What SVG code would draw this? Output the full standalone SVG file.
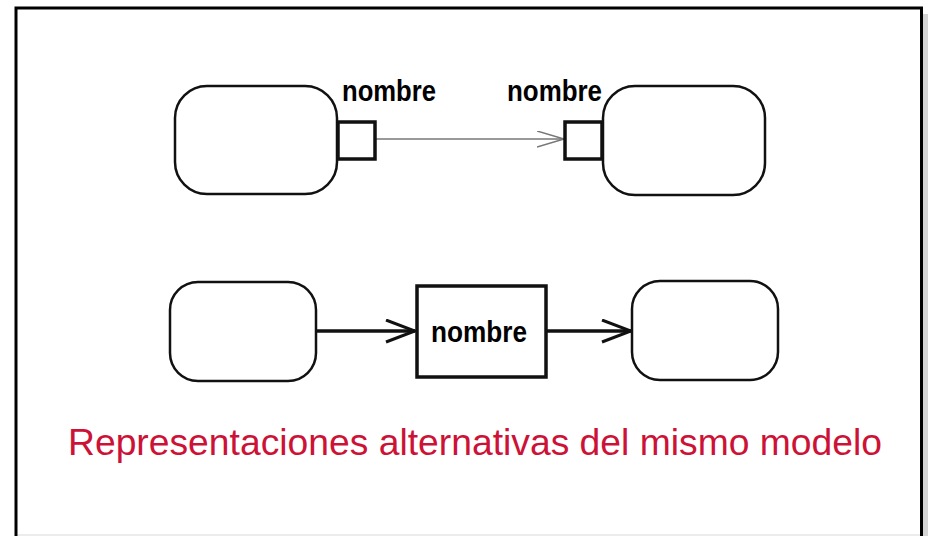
<svg xmlns="http://www.w3.org/2000/svg" width="928" height="536" viewBox="0 0 928 536">
<style>
.node{fill:#fff;stroke:#111;stroke-width:2.5}
.port{fill:#fff;stroke:#111;stroke-width:3.5}
.lbl{font-family:"Liberation Sans",Arial,sans-serif;font-weight:bold;font-size:29px;fill:#000}
.title{font-family:"Liberation Sans",Arial,sans-serif;font-size:37px;fill:#cc1236}
</style>
<defs>
<marker id="openThin" markerWidth="30" markerHeight="20" refX="27" refY="8" orient="auto" markerUnits="userSpaceOnUse">
<path d="M0,0 L27,8 L0,16" fill="none" stroke="#777" stroke-width="1.5"/>
</marker>
<marker id="openBold" markerWidth="34" markerHeight="26" refX="30" refY="12" orient="auto" markerUnits="userSpaceOnUse">
<path d="M1,1 L30,12 L1,23" fill="none" stroke="#111" stroke-width="3"/>
</marker>
</defs>
<rect x="0" y="0" width="928" height="536" fill="#fff"/>
<rect x="923" y="14" width="5" height="522" fill="#d4d4d4"/>
<line x1="17" y1="535" x2="921" y2="535" stroke="#e6e6e6" stroke-width="1.5"/>
<path d="M16,536 L16,8 L921.5,8 L921.5,536" fill="none" stroke="#000" stroke-width="3"/>
<g id="connectors">
<line x1="375" y1="139" x2="564" y2="139" stroke="#777" stroke-width="1.5" marker-end="url(#openThin)"/>
<line x1="316" y1="331" x2="415" y2="331" stroke="#111" stroke-width="3.5" marker-end="url(#openBold)"/>
<line x1="546" y1="331" x2="631" y2="331" stroke="#111" stroke-width="3.5" marker-end="url(#openBold)"/>
</g>
<g id="nodeA">
<rect class="node" x="175" y="86" width="162" height="108" rx="32"/>
</g>
<g id="portA">
<rect class="port" x="338" y="122" width="37" height="37"/>
<text class="lbl" x="342" y="101" textLength="94" lengthAdjust="spacingAndGlyphs">nombre</text>
</g>
<g id="portB">
<rect class="port" x="565" y="122" width="37" height="37"/>
<text class="lbl" x="507" y="101" textLength="95" lengthAdjust="spacingAndGlyphs">nombre</text>
</g>
<g id="nodeB">
<rect class="node" x="603" y="86" width="162" height="109" rx="32"/>
</g>
<g id="nodeC">
<rect class="node" x="170" y="282" width="146" height="99" rx="28"/>
</g>
<g id="nodeD">
<rect class="port" x="417" y="286" width="129" height="91"/>
<text class="lbl" x="431" y="342" textLength="96" lengthAdjust="spacingAndGlyphs">nombre</text>
</g>
<g id="nodeE">
<rect class="node" x="632" y="281" width="146" height="99" rx="28"/>
</g>
<text class="title" x="68" y="455" textLength="814" lengthAdjust="spacingAndGlyphs">Representaciones alternativas del mismo modelo</text>
</svg>
